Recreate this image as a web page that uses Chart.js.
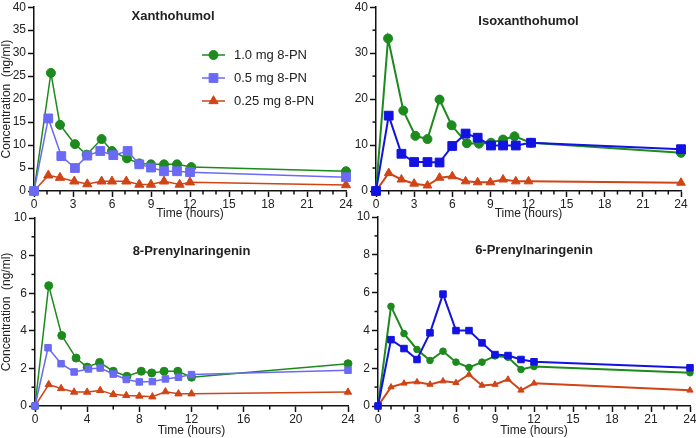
<!DOCTYPE html>
<html><head><meta charset="utf-8">
<script src="https://cdn.jsdelivr.net/npm/chart.js@4.4.1/dist/chart.umd.min.js"></script>
<style>
html,body{margin:0;padding:0;background:#fff;}
#wrap{position:relative;width:696px;height:438px;overflow:hidden;background:#fff;}
canvas{position:absolute;}
</style></head><body>
<div id="wrap">
<canvas id="c3" width="360" height="228" style="left:0;top:210px;width:360px;height:228px"></canvas>
<canvas id="c4" width="356" height="228" style="left:340px;top:210px;width:356px;height:228px"></canvas>
<canvas id="c1" width="364" height="225" style="left:0;top:0;width:364px;height:225px"></canvas>
<canvas id="c2" width="356" height="225" style="left:340px;top:0;width:356px;height:225px"></canvas>
</div>
<script>
// ---------- labels ----------
const seriesLabels = ['1.0 mg 8-PN', '0.5 mg 8-PN', '0.25 mg 8-PN'];
const panelTitles = ['Xanthohumol', 'Isoxanthohumol', '8-Prenylnaringenin', '6-Prenylnaringenin'];
const xAxisTitle = 'Time (hours)';
const yAxisTitle = 'Concentration  (ng/ml)';

// ---------- tick labels ----------
const xTicks3 = [0, 3, 6, 9, 12, 15, 18, 21, 24];
const xTicks4 = [0, 4, 8, 12, 16, 20, 24];
const yTicksXN = [0, 5, 10, 15, 20, 25, 30, 35, 40];
const yTicksIX = [0, 10, 20, 30, 40];
const yTicksPN = [0, 2, 4, 6, 8, 10];
const xMinor1 = [1, 2, 4, 5, 7, 8, 10, 11, 13, 14, 16, 17, 19, 20, 22, 23];
const xMinor2 = [2, 6, 10, 14, 18, 22];
const yMinorIX = [5, 15, 25, 35];
const yMinorPN = [1, 3, 5, 7, 9];

// ---------- Xanthohumol ----------
const xnHighT = [0, 1.3, 2, 3.15, 4.05, 5.2, 6, 7.15, 8.1, 9, 10, 11, 12.1, 24];
const xnHighY = [0, 25.7, 14.4, 10.2, 7.9, 11.3, 8.7, 7.1, 6.0, 5.8, 5.8, 5.8, 5.2, 4.3];
const xnMidT  = [0, 1.1, 2.1, 3.15, 4.1, 5.1, 6.1, 7.2, 8.1, 9, 10, 11, 12, 24];
const xnMidY  = [0, 15.8, 7.6, 5.0, 7.7, 8.7, 7.8, 8.7, 5.8, 5.1, 4.3, 4.3, 4.1, 3.0];
const xnLowT  = [0, 1.1, 2, 3.1, 4.1, 5.2, 6, 7.1, 8.1, 9, 10, 11.2, 12, 24];
const xnLowY  = [0, 3.4, 2.9, 2.1, 1.5, 2.1, 2.1, 2.1, 1.4, 1.4, 2.1, 1.4, 1.9, 1.3];

// ---------- Isoxanthohumol ----------
const ixHighT = [0, 0.95, 2.15, 3.1, 4.05, 5, 5.95, 7.15, 8.1, 9.05, 10, 10.9, 12.2, 24];
const ixHighY = [0, 33.2, 17.5, 12.0, 11.3, 19.9, 14.3, 10.4, 10.3, 10.5, 11.2, 11.9, 10.5, 8.3];
const ixMidT  = [0, 1, 2, 3, 4.05, 5, 6, 7.05, 8, 9.05, 10, 11, 12.2, 24];
const ixMidY  = [0, 16.4, 8.1, 6.3, 6.3, 6.2, 9.8, 12.5, 11.6, 9.9, 9.9, 9.9, 10.5, 9.1];
const ixLowT  = [0, 1, 2, 3, 4.05, 5, 6, 7.05, 8, 9, 10, 11, 12, 24];
const ixLowY  = [0, 3.9, 2.5, 1.6, 1.2, 2.9, 3.2, 2.1, 1.9, 1.9, 2.5, 2.1, 2.1, 1.8];

// ---------- 8-Prenylnaringenin ----------
const p8HighT = [0, 1.05, 2.05, 3.15, 4, 4.95, 6, 7.05, 8.15, 8.95, 9.9, 10.95, 12, 24];
const p8HighY = [0, 6.4, 3.75, 2.55, 2.07, 2.32, 1.85, 1.58, 1.85, 1.76, 1.85, 1.85, 1.53, 2.25];
const p8MidT  = [0, 1, 2, 3, 4.1, 5, 6, 7, 8, 9, 10, 11, 12, 24];
const p8MidY  = [0, 3.1, 2.25, 1.81, 1.97, 2.02, 1.7, 1.41, 1.28, 1.3, 1.44, 1.53, 1.67, 1.9];
const p8LowT  = [0, 1.05, 2, 3, 4, 5, 6, 7, 8, 9, 10, 11, 12, 24];
const p8LowY  = [0, 1.14, 0.93, 0.74, 0.74, 0.83, 0.62, 0.56, 0.53, 0.49, 0.76, 0.65, 0.65, 0.74];

// ---------- 6-Prenylnaringenin ----------
const p6T     = [0, 1, 2, 3, 4, 5, 6, 7, 8, 9, 10, 11, 12, 24];
const p6HighY = [0, 5.27, 3.83, 2.99, 2.41, 2.9, 2.32, 2.04, 2.32, 2.65, 2.58, 1.93, 2.09, 1.76];
const p6MidY  = [0, 3.51, 3.04, 2.46, 3.87, 5.92, 3.99, 3.99, 3.34, 2.72, 2.67, 2.46, 2.34, 2.02];
const p6LowY  = [0, 1.0, 1.2, 1.27, 1.14, 1.32, 1.23, 1.67, 1.09, 1.14, 1.41, 0.83, 1.2, 0.83];

// ---------- styles ----------
const FONT = '"Liberation Sans", Arial, Helvetica, sans-serif';
const TEXT = '#222222';
const AXIS = '#111111';
const GREEN = '#1c8a1c';
const BLUE_LIGHT = '#6a6af4';
const BLUE_DARK = '#1212e2';
const RED = '#d04416';
const STYLES = ['circle', 'rect', 'triangle'];
const ORDERS = [1, 0, 2];

Chart.defaults.font.family = FONT;

function drawMarker(ctx, style, r, x, y) {
  ctx.beginPath();
  if (style === 'circle') {
    ctx.arc(x, y, r, 0, Math.PI * 2);
  } else if (style === 'rect') {
    const s = r * Math.SQRT1_2;
    ctx.rect(x - s, y - s, 2 * s, 2 * s);
  } else {
    for (let k = 0; k < 3; k++) {
      const a = k * 2 * Math.PI / 3;
      const px = x + Math.sin(a) * r, py = y - Math.cos(a) * r;
      if (k === 0) ctx.moveTo(px, py); else ctx.lineTo(px, py);
    }
    ctx.closePath();
  }
  ctx.fill();
  ctx.stroke();
}

const minorTickPlugin = {
  id: 'minorTicks',
  beforeDatasetsDraw(chart, args, o) {
    const ctx = chart.ctx, xs = chart.scales.x, ys = chart.scales.y;
    ctx.save();
    ctx.strokeStyle = AXIS;
    ctx.lineWidth = 1.5;
    (o.x || []).forEach(v => {
      const px = xs.getPixelForValue(v);
      ctx.beginPath(); ctx.moveTo(px, xs.top); ctx.lineTo(px, xs.top + o.len); ctx.stroke();
    });
    (o.y || []).forEach(v => {
      const py = ys.getPixelForValue(v);
      ctx.beginPath(); ctx.moveTo(ys.right, py); ctx.lineTo(ys.right - o.len, py); ctx.stroke();
    });
    ctx.restore();
  }
};

const insetLegendPlugin = {
  id: 'insetLegend',
  afterDatasetsDraw(chart, args, o) {
    if (!o || !o.display) return;
    const ctx = chart.ctx;
    chart.data.datasets.forEach((ds, i) => {
      const y = o.y + i * o.gap;
      ctx.save();
      ctx.strokeStyle = ds.borderColor;
      ctx.fillStyle = ds.backgroundColor;
      ctx.lineWidth = ds.borderWidth;
      ctx.beginPath(); ctx.moveTo(o.x, y); ctx.lineTo(o.x + o.lineLen, y); ctx.stroke();
      ctx.lineWidth = 1;
      drawMarker(ctx, ds.pointStyle, ds.pointRadius, o.x + o.lineLen / 2, y);
      ctx.fillStyle = TEXT;
      ctx.font = o.fontSize + 'px ' + FONT;
      ctx.textBaseline = 'middle';
      ctx.textAlign = 'left';
      ctx.fillText(ds.label, o.textX, y);
      ctx.restore();
    });
  }
};

function makeChart(id, p) {
  const datasets = p.series.map((s, i) => ({
    label: seriesLabels[i],
    data: s.t.map((t, k) => ({ x: t, y: s.y[k] })),
    borderColor: s.color,
    backgroundColor: s.color,
    borderWidth: p.lineWidth,
    pointStyle: STYLES[i],
    pointRadius: p.radii[i],
    pointBorderWidth: 1,
    pointBorderColor: s.color,
    pointBackgroundColor: s.color,
    tension: 0,
    clip: false,
    order: ORDERS[i]
  }));
  const tickFont = { family: FONT, size: 12 };
  return new Chart(document.getElementById(id), {
    type: 'line',
    data: { datasets },
    options: {
      responsive: false,
      animation: false,
      events: [],
      layout: { padding: p.pad },
      plugins: {
        legend: { display: false },
        tooltip: { enabled: false },
        title: {
          display: true, text: p.title, fullSize: p.fullSize,
          font: { family: FONT, size: 13, weight: 'bold', lineHeight: 1.2 }, color: TEXT,
          padding: { top: p.tTop, bottom: -(15.6 + p.tTop) }
        },
        minorTicks: { x: p.xMinor, y: p.yMinor, len: 3.5 },
        insetLegend: p.legend || { display: false }
      },
      scales: {
        x: {
          type: 'linear', min: 0, max: 24,
          afterBuildTicks: s => { s.ticks = p.xTicks.map(v => ({ value: v })); },
          afterFit: s => { s.height = p.xH; s.paddingLeft = 0; s.paddingRight = 0; },
          border: { display: true, color: AXIS, width: 1.5 },
          grid: { display: true, drawOnChartArea: false, drawTicks: true, tickLength: 6, tickColor: AXIS, tickWidth: 1.5 },
          ticks: { font: tickFont, color: TEXT, padding: 0, maxRotation: 0, autoSkip: false },
          title: { display: true, text: xAxisTitle, font: { family: FONT, size: 12, lineHeight: 1.2 }, color: TEXT, padding: { top: 0, bottom: p.xtb } }
        },
        y: {
          type: 'linear', min: p.yMin, max: p.yMax,
          afterBuildTicks: s => { s.ticks = p.yTicks.map(v => ({ value: v })); },
          afterFit: s => { s.width = p.yW; s.paddingTop = 0; s.paddingBottom = 0; },
          border: { display: true, color: AXIS, width: 1.5 },
          grid: { display: true, drawOnChartArea: false, drawTicks: true, tickLength: 6, tickColor: AXIS, tickWidth: 1.5 },
          ticks: { font: tickFont, color: TEXT, padding: 2, autoSkip: false },
          title: { display: p.yTitle, text: yAxisTitle, font: { family: FONT, size: 12, lineHeight: 1.2 }, color: TEXT, padding: { top: -1, bottom: 0 } }
        }
      }
    },
    plugins: [minorTickPlugin, insetLegendPlugin]
  });
}

// Xanthohumol
makeChart('c1', {
  title: panelTitles[0], fullSize: true, tTop: 1.9,
  pad: { left: 0, top: 5, right: 18, bottom: 0 }, yW: 34, xH: 34, xtb: 4,
  yMin: 0, yMax: 40, yTicks: yTicksXN, yMinor: [], xTicks: xTicks3, xMinor: xMinor1, yTitle: true,
  lineWidth: 1.5, radii: [4.5, 6.2, 5.3],
  series: [
    { t: xnHighT, y: xnHighY, color: GREEN },
    { t: xnMidT, y: xnMidY, color: BLUE_LIGHT },
    { t: xnLowT, y: xnLowY, color: RED }
  ],
  legend: { display: true, x: 202, lineLen: 23, y: 55, gap: 23, textX: 234, fontSize: 13 }
});

// Isoxanthohumol
makeChart('c2', {
  title: panelTitles[1], fullSize: false, tTop: 6.7,
  pad: { left: 0, top: 5, right: 15, bottom: 0 }, yW: 36, xH: 34, xtb: 4,
  yMin: 0, yMax: 40, yTicks: yTicksIX, yMinor: yMinorIX, xTicks: xTicks3, xMinor: xMinor1, yTitle: false,
  lineWidth: 2, radii: [4.5, 6.2, 5.0],
  series: [
    { t: ixHighT, y: ixHighY, color: GREEN },
    { t: ixMidT, y: ixMidY, color: BLUE_DARK },
    { t: ixLowT, y: ixLowY, color: RED }
  ]
});

// 8-Prenylnaringenin
makeChart('c3', {
  title: panelTitles[2], fullSize: false, tTop: 25.2,
  pad: { left: 0, top: 8, right: 12, bottom: 0 }, yW: 35, xH: 32, xtb: 0,
  yMin: 0, yMax: 10, yTicks: yTicksPN, yMinor: yMinorPN, xTicks: xTicks4, xMinor: xMinor2, yTitle: true,
  lineWidth: 1.5, radii: [4, 4.6, 4.2],
  series: [
    { t: p8HighT, y: p8HighY, color: GREEN },
    { t: p8MidT, y: p8MidY, color: BLUE_LIGHT },
    { t: p8LowT, y: p8LowY, color: RED }
  ]
});

// 6-Prenylnaringenin
makeChart('c4', {
  title: panelTitles[3], fullSize: false, tTop: 25.2,
  pad: { left: 0, top: 7, right: 6, bottom: 0 }, yW: 38, xH: 32, xtb: 0,
  yMin: 0, yMax: 10, yTicks: yTicksPN, yMinor: yMinorPN, xTicks: xTicks3, xMinor: xMinor1, yTitle: false,
  lineWidth: 2, radii: [3.3, 4.6, 3.6],
  series: [
    { t: p6T, y: p6HighY, color: GREEN },
    { t: p6T, y: p6MidY, color: BLUE_DARK },
    { t: p6T, y: p6LowY, color: RED }
  ]
});
</script>
</body></html>
